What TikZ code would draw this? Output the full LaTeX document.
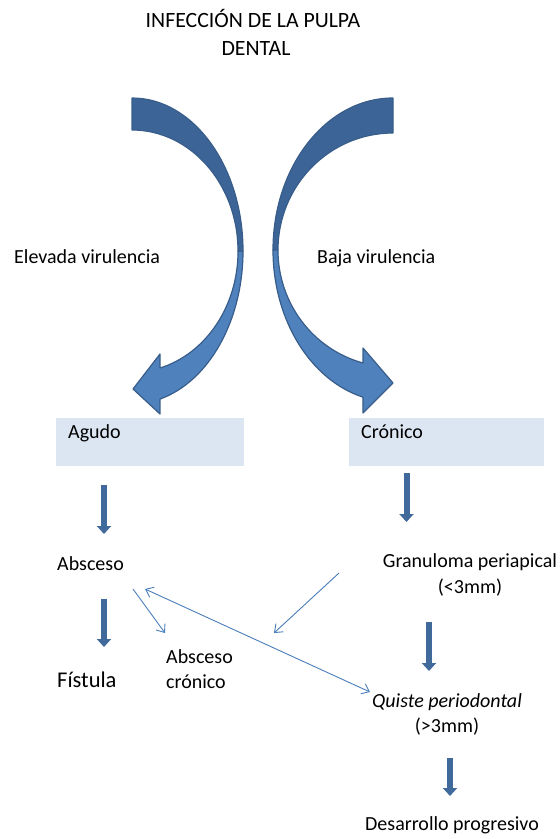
\documentclass[tikz,border=0pt]{standalone}
\usepackage{fontspec}
\setmainfont{Carlito}
\usetikzlibrary{arrows.meta}
\definecolor{benddark}{HTML}{3D6496}
\definecolor{bendlight}{HTML}{4F81BD}
\definecolor{bendline}{HTML}{385D8A}
\definecolor{boxfill}{HTML}{DCE6F2}
\definecolor{thinline}{HTML}{4A7EBB}
\definecolor{blockfill}{HTML}{40699C}

\begin{document}
\begin{tikzpicture}[x=1pt, y=1pt, yscale=-1]
	\tikzset{label text/.style={inner sep=0pt, anchor=base west, font=\fontsize{20}{24}\selectfont},
		mid text/.style={inner sep=0pt, anchor=base, font=\fontsize{20}{24}\selectfont},
		state box/.style={fill=boxfill, minimum width=188pt, minimum height=48pt, anchor=north west},
		bend part/.style={draw=bendline, line width=1.2pt, line join=round},
		block arrow/.style={draw=blockfill, line width=6pt, -{Triangle[width=14pt, length=8pt]}},
		thin arrow/.style={draw=thinline, line width=0.9pt, -{Straight Barb[length=7pt, width=11pt]}}}
	\useasboundingbox (0, 0) rectangle (560, 839);
	% title
	\node (title1) [mid text, font=\fontsize{21.8}{26}\selectfont] at (253, 27) {INFECCIÓN DE LA PULPA};
	\node (title2) [mid text, font=\fontsize{21.8}{26}\selectfont] at (256, 55) {DENTAL};
	% left bend arrow
	\fill [bend part, fill=benddark] (132, 98) arc [start angle=-90, end angle=0, x radius=111, y radius=153]
		-- (238, 251) arc [start angle=0, end angle=-90, x radius=106, y radius=121] -- cycle;
	\fill [bend part, fill=bendlight] (243, 251) arc [start angle=0, end angle=75.4, x radius=111, y radius=153]
		-- (160, 414) -- (133, 389) -- (160, 354) -- (160, 368)
		arc [start angle=74.7, end angle=0, x radius=106, y radius=121] -- cycle;
	% right bend arrow
	\fill [bend part, fill=benddark] (393, 98) arc [start angle=-90, end angle=-180, x radius=120, y radius=152]
		-- (278, 250) arc [start angle=180, end angle=270, x radius=115, y radius=117] -- cycle;
	\fill [bend part, fill=bendlight] (273, 250) arc [start angle=180, end angle=104.5, x radius=120, y radius=152]
		-- (363, 413) -- (393, 383) -- (363, 348) -- (363, 363)
		arc [start angle=105.1, end angle=180, x radius=115, y radius=117] -- cycle;
	\node (elevada) [label text] at (14, 263) {Elevada virulencia};
	\node (baja) [label text] at (317, 263) {Baja virulencia};
	% boxes
	\node (agudobox) [state box] at (56, 418) {};
	\node (cronicobox) [state box, minimum width=195pt] at (349, 418) {};
	\node (agudo) [label text] at (68, 438) {Agudo};
	\node (cronico) [label text] at (361, 438) {Crónico};
	% acute branch
	\node (absceso) [label text] at (57, 570) {Absceso};
	\node (fistula) [label text, font=\fontsize{22.5}{27}\selectfont] at (57, 687) {Fístula};
	\node (abscron) [label text, align=left] at (166, 688) {Absceso\\[1pt]crónico};
	% chronic branch
	\node (granuloma) [mid text] at (470, 567) {Granuloma periapical};
	\node (granmm) [mid text] at (470, 593) {(<3mm)};
	\node (quiste) [mid text] at (447, 707) {\itshape Quiste periodontal};
	\node (quistemm) [mid text] at (447, 732) {(>3mm)};
	\node (desarrollo) [mid text] at (452, 830) {Desarrollo progresivo};
	% block arrows
	\coordinate (a1) at (104, 485); \coordinate (a2) at (104, 534);
	\coordinate (b1) at (406.5, 473); \coordinate (b2) at (406.5, 522);
	\coordinate (c1) at (104, 599); \coordinate (c2) at (104, 647);
	\coordinate (d1) at (429, 622); \coordinate (d2) at (429, 671);
	\coordinate (e1) at (450, 758); \coordinate (e2) at (450, 796);
	\draw [block arrow] (a1) -- (a2);
	\draw [block arrow] (b1) -- (b2);
	\draw [block arrow] (c1) -- (c2);
	\draw [block arrow] (d1) -- (d2);
	\draw [block arrow] (e1) -- (e2);
	% thin arrows
	\coordinate (p1) at (133, 589); \coordinate (p2) at (165, 633);
	\coordinate (q1) at (339, 573); \coordinate (q2) at (274, 633);
	\coordinate (r1) at (145, 589); \coordinate (r2) at (370, 692);
	\draw [thin arrow] (p1) -- (p2);
	\draw [thin arrow] (q1) -- (q2);
	\draw [thin arrow, {Straight Barb[length=7pt, width=11pt]}-{Straight Barb[length=7pt, width=11pt]}] (r1) -- (r2);
\end{tikzpicture}
\end{document}
